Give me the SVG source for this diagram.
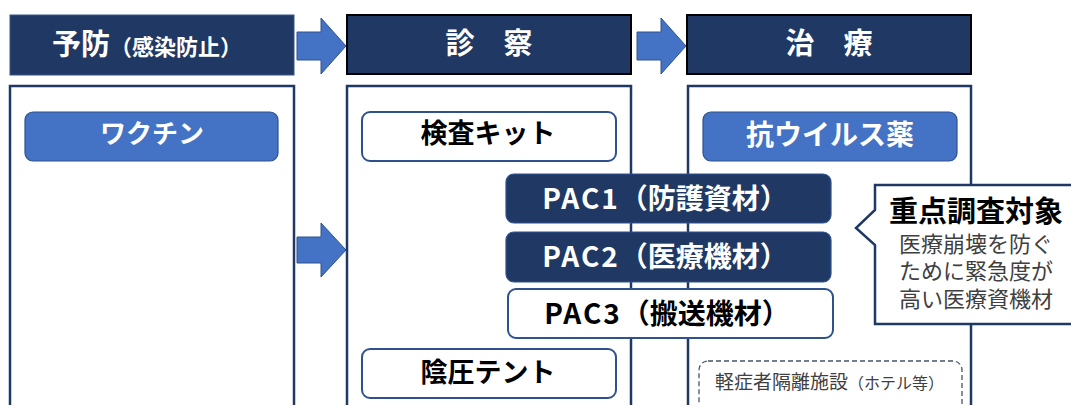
<svg xmlns="http://www.w3.org/2000/svg" width="1071" height="405" viewBox="0 0 1071 405">
<style>
text{font-family:"Noto Sans CJK JP","Noto Sans",sans-serif}
.hdr{fill:#203864}
.col{fill:#ffffff;stroke:#203864;stroke-width:2.5}
.arrow{fill:#4472c4;stroke:#2f528f;stroke-width:1}
.btnBlue{fill:#4472c4;stroke:#2f528f;stroke-width:1.2}
.btnWhite{fill:#ffffff;stroke:#2f528f;stroke-width:2}
.btnDark{fill:#203864;stroke:#2f528f;stroke-width:1.2}
.wt{fill:#ffffff;font-weight:bold}
.bt{fill:#000000;font-weight:bold}
.gt{fill:#404040}
.lat{letter-spacing:2px}
.co{font-family:"Liberation Sans","Noto Sans CJK JP",sans-serif}
</style>
<g id="connectors">
<polygon class="arrow" points="297,32 321,32 321,18 346,46 321,74 321,60 297,60"/>
<polygon class="arrow" points="637,32 661,32 661,18 686,46 661,74 661,60 637,60"/>
<polygon class="arrow" points="297,237 321,237 321,223 346,250 321,277 321,263 297,263"/>
<polyline points="838,175 850,175 850,282 838,282" fill="none" stroke="#44546a" stroke-width="1.5"/>
</g>
<g id="header-yobou">
<rect class="hdr" x="10" y="15" width="284" height="60" stroke="#3b5488" stroke-width="1"/>
<text class="wt" x="52" y="55" font-size="29">予防<tspan font-size="22">（感染防止）</tspan></text>
</g>
<g id="header-shinsatsu">
<rect class="hdr" x="347" y="15" width="284" height="59" stroke="#000" stroke-width="2"/>
<text class="wt" x="489" y="54" font-size="29" text-anchor="middle">診　察</text>
</g>
<g id="header-chiryou">
<rect class="hdr" x="687" y="15" width="284" height="59" stroke="#000" stroke-width="2"/>
<text class="wt" x="829" y="54" font-size="29" text-anchor="middle">治　療</text>
</g>
<g id="column-yobou"><rect class="col" x="10" y="86" width="284" height="340"/></g>
<g id="column-shinsatsu"><rect class="col" x="347" y="86" width="284" height="340"/></g>
<g id="column-chiryou"><rect class="col" x="688" y="86" width="283" height="340"/></g>
<g id="vaccine">
<rect class="btnBlue" x="25" y="112" width="253" height="49" rx="8"/>
<text class="wt" x="152" y="143" font-size="26" text-anchor="middle">ワクチン</text>
</g>
<g id="test-kit">
<rect class="btnWhite" x="362" y="112" width="254" height="49" rx="8"/>
<text class="bt" x="488" y="143" font-size="27" text-anchor="middle">検査キット</text>
</g>
<g id="antiviral">
<rect class="btnBlue" x="703" y="112" width="254" height="49" rx="8"/>
<text class="wt" x="830" y="145" font-size="28" text-anchor="middle">抗ウイルス薬</text>
</g>
<g id="pac1">
<rect class="btnDark" x="506" y="174" width="325" height="49" rx="8"/>
<text class="wt" x="665" y="209" font-size="28" text-anchor="middle"><tspan class="lat">PAC1</tspan>（防護資材）</text>
</g>
<g id="pac2">
<rect class="btnDark" x="506" y="232" width="325" height="50" rx="8"/>
<text class="wt" x="665" y="267" font-size="28" text-anchor="middle"><tspan class="lat">PAC2</tspan>（医療機材）</text>
</g>
<g id="pac3">
<rect class="btnWhite" x="508" y="289" width="325" height="49" rx="8"/>
<text class="bt" x="667" y="324" font-size="28" text-anchor="middle"><tspan class="lat">PAC3</tspan>（搬送機材）</text>
</g>
<g id="negative-pressure-tent">
<rect class="btnWhite" x="362" y="349" width="254" height="49" rx="8"/>
<text class="bt" x="488" y="382" font-size="27" text-anchor="middle">陰圧テント</text>
</g>
<g id="isolation-facility">
<rect x="699" y="361" width="263" height="60" rx="9" fill="none" stroke="#44546a" stroke-width="1.3" stroke-dasharray="5,3"/>
<text class="gt" x="715" y="389" font-size="19">軽症者隔離施設<tspan font-size="16">（ホテル等）</tspan></text>
</g>
<g id="callout">
<path d="M1085,185 L875,185 L875,210 L856,228 L875,245 L875,324 L1085,324" fill="#ffffff" stroke="#203864" stroke-width="2.5"/>
<text class="bt co" x="976" y="222" font-size="29" text-anchor="middle">重点調査対象</text>
<text class="gt co" x="976" y="252" font-size="22" text-anchor="middle">医療崩壊を防ぐ</text>
<text class="gt co" x="976" y="279" font-size="22" text-anchor="middle">ために緊急度が</text>
<text class="gt co" x="976" y="307" font-size="22" text-anchor="middle">高い医療資機材</text>
</g>
</svg>
